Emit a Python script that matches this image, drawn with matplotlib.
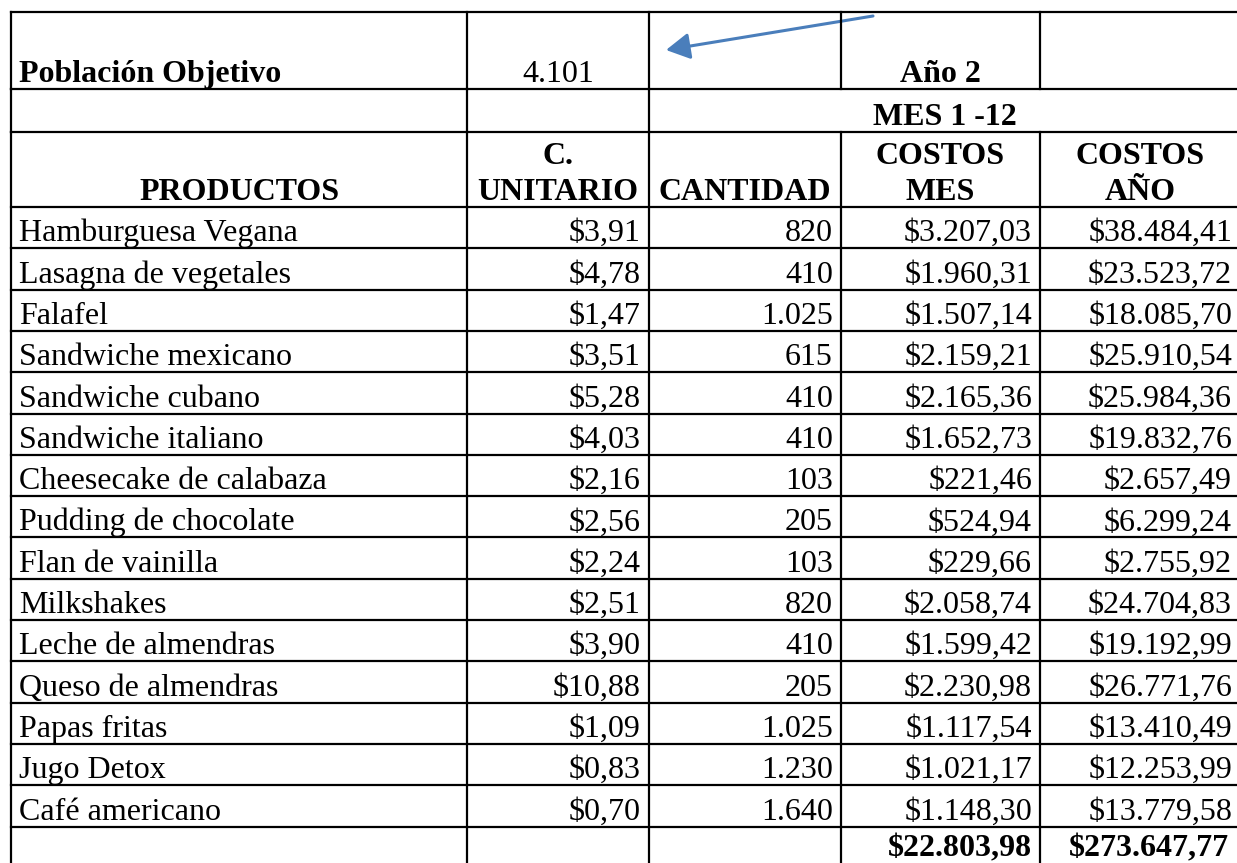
import matplotlib
matplotlib.use("Agg")
import matplotlib.pyplot as plt
from matplotlib.patches import FancyArrowPatch

# datos de la tabla
productos = ["Hamburguesa Vegana", "Lasagna de vegetales", "Falafel",
             "Sandwiche mexicano", "Sandwiche cubano", "Sandwiche italiano",
             "Cheesecake de calabaza", "Pudding de chocolate", "Flan de vainilla",
             "Milkshakes", "Leche de almendras", "Queso de almendras",
             "Papas fritas", "Jugo Detox", "Café americano"]
c_unitario = [3.91, 4.78, 1.47, 3.51, 5.28, 4.03, 2.16, 2.56, 2.24,
              2.51, 3.90, 10.88, 1.09, 0.83, 0.70]
cantidad = [820, 410, 1025, 615, 410, 410, 103, 205, 103,
            820, 410, 205, 1025, 1230, 1640]
costos_mes = [3207.03, 1960.31, 1507.14, 2159.21, 2165.36, 1652.73, 221.46, 524.94,
              229.66, 2058.74, 1599.42, 2230.98, 1117.54, 1021.17, 1148.30]
costos_ano = [38484.41, 23523.72, 18085.70, 25910.54, 25984.36, 19832.76, 2657.49,
              6299.24, 2755.92, 24704.83, 19192.99, 26771.76, 13410.49, 12253.99, 13779.58]
total_mes = 22803.98
total_ano = 273647.77
poblacion = 4101
encabezados = ["PRODUCTOS", "C.\nUNITARIO", "CANTIDAD", "COSTOS\nMES", "COSTOS\nAÑO"]


def money(v):
    s = f"{v:,.2f}"
    return "$" + s.replace(",", "X").replace(".", ",").replace("X", ".")


def entero(v):
    return f"{v:,}".replace(",", ".")


# layout (pixeles)
W, H = 1237, 863
xs = [11, 467, 649, 841, 1040, 1240]
row_h = 41.3
y_top = [12, 89, 132, 207]
n = len(productos)
y_data = [207 + i * row_h for i in range(n + 2)]

fig = plt.figure(figsize=(W / 100, H / 100), dpi=100)
ax = fig.add_axes([0, 0, 1, 1])
ax.set_xlim(0, W)
ax.set_ylim(H, 0)
ax.axis("off")

lw = 1.6
# lineas horizontales
for y in y_top[:-1] + y_data:
    ax.plot([xs[0], xs[-1]], [y, y], color="black", lw=lw, solid_capstyle="projecting")
# lineas verticales
for i, x in enumerate(xs):
    ax.plot([x, x], [12, 89], color="black", lw=lw)
    if i <= 2:
        ax.plot([x, x], [89, 132], color="black", lw=lw)
    ax.plot([x, x], [132, y_data[-1]], color="black", lw=lw)

fs = 23
fam = "Liberation Serif"
pad = 8
base = 7


def cx(i):
    return (xs[i] + xs[i + 1]) / 2


ax.text(xs[0] + pad, 89 - base, "Población Objetivo", fontsize=fs, family=fam,
        weight="bold", va="baseline", ha="left")
ax.text(cx(1), 89 - base, entero(poblacion), fontsize=fs, family=fam,
        va="baseline", ha="center")
ax.text(cx(3), 89 - base, "Año 2", fontsize=fs, family=fam,
        weight="bold", va="baseline", ha="center")
ax.text((xs[2] + xs[-1]) / 2, 132 - base, "MES 1 -12", fontsize=fs, family=fam,
        weight="bold", va="baseline", ha="center")

for i, h in enumerate(encabezados):
    lines = h.split("\n")
    for k, t in enumerate(reversed(lines)):
        ax.text(cx(i), 207 - base - k * 36, t, fontsize=fs, family=fam,
                weight="bold", va="baseline", ha="center")

for r in range(n):
    yb = y_data[r + 1] - base
    ax.text(xs[0] + pad, yb, productos[r], fontsize=fs, family=fam, va="baseline", ha="left")
    vals = [money(c_unitario[r]), entero(cantidad[r]), money(costos_mes[r]), money(costos_ano[r])]
    for j, v in enumerate(vals):
        ax.text(xs[j + 2] - pad, yb, v, fontsize=fs, family=fam, va="baseline", ha="right")

yb = 856
ax.text(xs[4] - pad, yb, money(total_mes), fontsize=fs, family=fam, weight="bold",
        va="baseline", ha="right")
ax.text(xs[5] - pad - 3, yb, money(total_ano), fontsize=fs, family=fam, weight="bold",
        va="baseline", ha="right")

arrow = FancyArrowPatch((873, 16), (666, 50), arrowstyle="-|>,head_length=0.45,head_width=0.25",
                        mutation_scale=32, color="#4a7ebb", lw=2.2, shrinkA=0, shrinkB=0)
ax.add_patch(arrow)

fig.savefig("out.png", dpi=100)
